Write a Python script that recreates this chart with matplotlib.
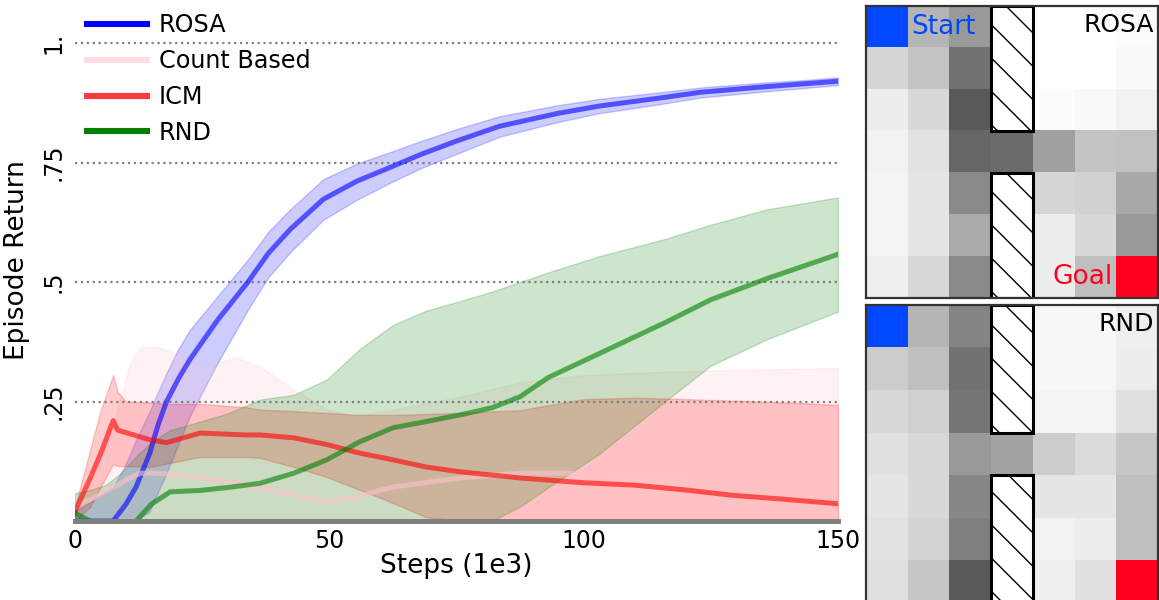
import numpy as np
import matplotlib
matplotlib.use('Agg')
import matplotlib.pyplot as plt
from matplotlib.lines import Line2D
from matplotlib.patches import Rectangle

# ---- learning curves (steps in 1e3, episode return) ----
rosa_x = [0, 7.5, 10, 12, 14.7, 16.3, 18, 20.3, 22.6, 28, 34, 38, 42.3, 48.8, 55.4, 62, 68,
          75, 83.5, 95, 103, 115, 123, 135, 142.5, 150]
rosa_mean = [0, 0, 0.035, 0.071, 0.142, 0.2, 0.25, 0.297, 0.338, 0.42, 0.5, 0.56, 0.61,
             0.673, 0.711, 0.74, 0.767, 0.795, 0.826, 0.853, 0.868, 0.885, 0.897, 0.908,
             0.914, 0.92]
rosa_hi = [0.02, 0.07, 0.12, 0.17, 0.23, 0.27, 0.31, 0.36, 0.40, 0.47, 0.547, 0.605, 0.652,
           0.715, 0.748, 0.772, 0.795, 0.82, 0.847, 0.87, 0.883, 0.897, 0.907, 0.917, 0.922,
           0.928]
rosa_lo = [0, 0, 0, 0, 0.02, 0.06, 0.1, 0.16, 0.22, 0.33, 0.442, 0.51, 0.562, 0.63, 0.672,
           0.708, 0.738, 0.768, 0.804, 0.835, 0.853, 0.872, 0.886, 0.898, 0.905, 0.912]

count_x = [0, 4, 7.5, 10.8, 12.8, 16, 20.6, 25, 31.8, 36.4, 43, 49.5, 55, 62.5, 75.7,
           87.5, 100, 110, 125, 150]
count_mean = [0.03, 0.05, 0.07, 0.09, 0.1, 0.1, 0.096, 0.09, 0.08, 0.069, 0.055, 0.04,
              0.05, 0.071, 0.09, 0.1, 0.1, 0.095, 0.09, 0.085]
count_hi = [0.01, 0.1, 0.2, 0.33, 0.363, 0.365, 0.348, 0.323, 0.342, 0.323, 0.275, 0.233,
            0.22, 0.233, 0.26, 0.29, 0.305, 0.31, 0.315, 0.32]
count_lo = [0] * len(count_x)

icm_x = [0, 3, 5, 7.5, 8.4, 10, 14.7, 18, 24.6, 33.8, 36.4, 43, 49.5, 56, 62.5, 69,
         75.7, 87.5, 100, 110, 120, 129, 140, 150]
icm_mean = [0.02, 0.09, 0.14, 0.21, 0.19, 0.185, 0.17, 0.164, 0.184, 0.18, 0.18, 0.174,
            0.16, 0.142, 0.128, 0.113, 0.103, 0.09, 0.08, 0.075, 0.065, 0.054, 0.045, 0.036]
icm_hi = [0.03, 0.15, 0.23, 0.306, 0.27, 0.25, 0.248, 0.245, 0.245, 0.238, 0.233, 0.23,
          0.226, 0.222, 0.222, 0.224, 0.226, 0.232, 0.255, 0.258, 0.255, 0.252, 0.248, 0.243]
icm_lo = [0, 0.03, 0.07, 0.12, 0.115, 0.115, 0.113, 0.12, 0.134, 0.134, 0.132, 0.113,
          0.092, 0.065, 0.038, 0.008, 0, 0, 0, 0, 0, 0, 0, 0]

rnd_x = [0, 3, 6, 9, 12, 15, 18.7, 24.6, 30, 36.4, 43, 49.5, 56, 62.5, 69, 75.7, 82,
         87.5, 93, 103, 116, 125, 136, 150]
rnd_mean = [0.016, 0.0, -0.01, -0.01, 0.0, 0.035, 0.061, 0.064, 0.07, 0.079, 0.1, 0.128,
            0.166, 0.195, 0.208, 0.222, 0.237, 0.26, 0.3, 0.35, 0.415, 0.463, 0.507, 0.558]
rnd_hi = [0.058, 0.065, 0.075, 0.1, 0.135, 0.165, 0.19, 0.208, 0.225, 0.254, 0.264, 0.296,
          0.36, 0.41, 0.44, 0.46, 0.48, 0.5, 0.52, 0.554, 0.59, 0.62, 0.652, 0.677]
rnd_lo = [0, 0, 0, 0, 0, 0, 0, 0, 0, 0, 0, 0, 0, 0, 0, 0, 0, 0.03, 0.07, 0.14, 0.25,
          0.325, 0.38, 0.438]

labels = ['ROSA', 'Count Based', 'ICM', 'RND']
colors = ['blue', 'pink', 'red', 'green']
legend_colors = ['blue', '#ffdde3', '#ff3a3a', 'green']

yticks = [0.25, 0.5, 0.75, 1.0]
ytick_labels = ['.25', '.5', '.75', '1.']
xticks = [0, 50, 100, 150]

# ---- state visitation in the 7x7 two-room grid (None = wall) ----
W = None
rosa_visits = [
    [0.30, 0.29, 0.40, W, 0.00, 0.00, 0.01],
    [0.16, 0.23, 0.55, W, 0.00, 0.00, 0.02],
    [0.07, 0.15, 0.65, W, 0.01, 0.02, 0.05],
    [0.05, 0.11, 0.60, 0.58, 0.37, 0.23, 0.24],
    [0.04, 0.10, 0.46, W, 0.16, 0.18, 0.34],
    [0.04, 0.10, 0.33, W, 0.07, 0.15, 0.40],
    [0.06, 0.15, 0.46, W, 0.07, 0.25, 0.30],
]
rnd_visits = [
    [0.30, 0.29, 0.48, W, 0.03, 0.03, 0.06],
    [0.20, 0.25, 0.55, W, 0.03, 0.03, 0.07],
    [0.15, 0.18, 0.54, W, 0.04, 0.04, 0.12],
    [0.12, 0.15, 0.40, 0.36, 0.20, 0.14, 0.22],
    [0.10, 0.15, 0.47, W, 0.10, 0.10, 0.25],
    [0.11, 0.17, 0.50, W, 0.05, 0.07, 0.25],
    [0.12, 0.22, 0.65, W, 0.06, 0.12, 0.30],
]
start_cell = (0, 0)
goal_cell = (6, 6)
start_color = '#0048ff'
goal_color = '#ff0020'

plt.rcParams['hatch.linewidth'] = 0.5

fig = plt.figure(figsize=(1159 / 200, 600 / 200), dpi=200)
ax = fig.add_axes([75 / 1159, 79 / 600, 763 / 1159, 521 / 600])

curves = [
    (rosa_x, rosa_mean, rosa_lo, rosa_hi),
    (count_x, count_mean, count_lo, count_hi),
    (icm_x, icm_mean, icm_lo, icm_hi),
    (rnd_x, rnd_mean, rnd_lo, rnd_hi),
]
for (x, m, lo, hi), c in zip(curves, colors):
    ax.fill_between(x, lo, hi, facecolor=c, edgecolor=c, alpha=0.2, linewidth=0.5)
    ax.plot(x, m, color=c, alpha=0.6, linewidth=1.8)

ax.set_xlim(0, 150)
ax.set_ylim(0, 1.09)
ax.set_xticks(xticks)
ax.set_yticks(yticks)
ax.set_yticklabels(ytick_labels, rotation=90, va='center')
ax.tick_params(length=0, labelsize=8.5)
ax.tick_params(axis='y', pad=3.5)
ax.tick_params(axis='x', pad=3)
for s in ['left', 'right', 'top']:
    ax.spines[s].set_visible(False)
ax.spines['bottom'].set_color('gray')
ax.spines['bottom'].set_linewidth(1.8)
ax.grid(axis='y', linestyle=':', color='gray', linewidth=0.8)
ax.set_xlabel('Steps (1e3)', fontsize=9.5, labelpad=0)
ax.set_ylabel('Episode Return', fontsize=9.5, labelpad=4)

handles = [Line2D([], [], color=c, linewidth=2.2) for c in legend_colors]
ax.legend(handles, labels, loc='upper left', bbox_to_anchor=(0.0, 0.998), frameon=False,
          fontsize=8.6, handlelength=2.5, handletextpad=0.5, labelspacing=0.5,
          borderpad=0.2, borderaxespad=0.3)


def draw_grid(hax, visits, name):
    n = len(visits)
    img = np.ones((n, n, 3))
    for r in range(n):
        for c in range(n):
            v = visits[r][c]
            if v is not None:
                img[r, c] = 1 - v
    img[start_cell] = matplotlib.colors.to_rgb(start_color)
    img[goal_cell] = matplotlib.colors.to_rgb(goal_color)
    hax.imshow(img, interpolation='nearest', aspect='auto',
               extent=(-0.5, n - 0.5, n - 0.5, -0.5))
    # walls between the two rooms
    hax.add_patch(Rectangle((2.5, -0.5), 1, 3, facecolor='white', edgecolor='black',
                            hatch='\\\\', linewidth=1.1))
    hax.add_patch(Rectangle((2.5, 3.5), 1, 3, facecolor='white', edgecolor='black',
                            hatch='\\\\', linewidth=1.1))
    hax.set_xlim(-0.5, n - 0.5)
    hax.set_ylim(n - 0.5, -0.5)
    hax.set_xticks([])
    hax.set_yticks([])
    for s in hax.spines.values():
        s.set_color('#333333')
        s.set_linewidth(0.8)
    hax.text(0.985, 0.975, name, transform=hax.transAxes, ha='right', va='top', fontsize=9)


hax1 = fig.add_axes([866 / 1159, 1 - 298 / 600, 292 / 1159, 292 / 600])
draw_grid(hax1, rosa_visits, 'ROSA')
hax1.text(0.58, 0.0, 'Start', color=start_color, fontsize=9.5, ha='left', va='center')
hax1.text(5.42, 6.0, 'Goal', color=goal_color, fontsize=9.5, ha='right', va='center')

hax2 = fig.add_axes([866 / 1159, 1 - 603 / 600, 292 / 1159, 298 / 600])
draw_grid(hax2, rnd_visits, 'RND')

fig.savefig('out.png', dpi=200)
